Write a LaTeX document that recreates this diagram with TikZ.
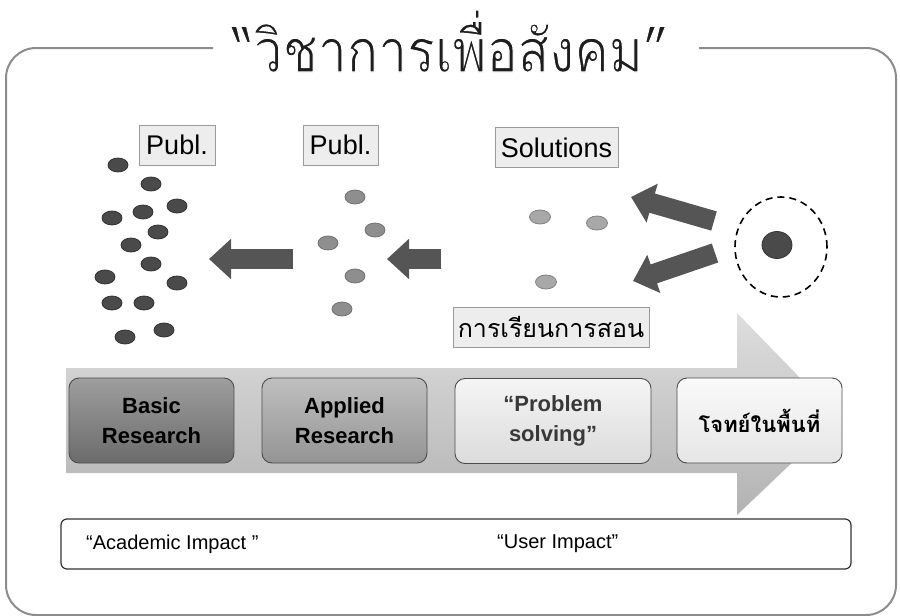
\documentclass[tikz,border=0pt]{standalone}
\usepackage{fontspec}
\setmainfont{Liberation Sans}
\newfontfamily\thaifont[Script=Thai]{Loma}
\usetikzlibrary{shapes.geometric,arrows.meta}
\definecolor{framegray}{HTML}{8C8C8C}
\definecolor{titleink}{HTML}{1E1E1E}
\definecolor{arrowgray}{HTML}{555555}
\definecolor{darkdot}{HTML}{4A4A4A}
\definecolor{middot}{HTML}{8E8E8E}
\definecolor{lightdot}{HTML}{A8A8A8}
\definecolor{labelfill}{HTML}{EDEDED}
\definecolor{labeledge}{HTML}{9A9A9A}
\tikzset{
  frameline/.style={draw=framegray, line width=2pt, rounded corners=30pt},
  dotdark/.style={ellipse, minimum width=20pt, minimum height=14pt, inner sep=0pt, fill=darkdot, draw=black!80, line width=0.8pt},
  dotmid/.style={ellipse, minimum width=20pt, minimum height=14pt, inner sep=0pt, fill=middot, draw=black!55, line width=0.8pt},
  dotlight/.style={ellipse, minimum width=21pt, minimum height=14pt, inner sep=0pt, fill=lightdot, draw=black!50, line width=0.8pt},
  fatarrow/.style={draw=arrowgray, line width=20pt, -{Triangle[length=22pt,width=39pt]}},
  toplabel/.style={draw=labeledge, fill=labelfill, line width=0.8pt, inner sep=0pt, font=\fontsize{27}{28}\selectfont},
  stagebox/.style={draw=black!70, line width=0.9pt, rounded corners=10pt, minimum width=165pt, minimum height=85pt, inner sep=0pt, align=center, font=\bfseries\fontsize{22}{30}\selectfont},
  impacttext/.style={anchor=west, inner sep=0pt, font=\fontsize{20}{22}\selectfont}
}
\begin{document}
\begin{tikzpicture}[x=1pt,y=-1pt]
\useasboundingbox (0,0) rectangle (900,616);
% outer frame with gap for title
\draw[frameline] (213,48) -- (6,48) -- (6,615) -- (896,615) -- (896,48) -- (699,48);
% title (thinned strokes: fill, then white outline)
\node[anchor=base west, inner sep=0pt, text=titleink] (title) at (232,72)
  {\resizebox{436pt}{62pt}{\special{pdf:literal direct 2 Tr 1 1 1 RG 0.2 w}\thaifont “วิชาการเพื่อสังคม”\special{pdf:literal direct 0 Tr}}};
% big process arrow
\path[top color=black!13, bottom color=black!30]
  (66,368) -- (737,368) -- (737,313) -- (839,418) -- (737,515) -- (737,473) -- (66,473) -- cycle;
% stage boxes
\node[stagebox, top color=black!38, bottom color=black!58] (basic) at (151.5,420.5) {Basic\\Research};
\node[stagebox, top color=black!25, bottom color=black!42] (applied) at (344.5,420.5) {Applied\\Research};
\node[stagebox, minimum width=196pt, top color=black!4, bottom color=black!14, text=black!78] (problem) at (553,421) {“Problem\\solving”};
\node[stagebox, top color=black!2, bottom color=black!10] (field) at (759.5,420.5) {\thaifont\bfseries\fontsize{22}{26}\selectfont โจทย์ในพื้นที่};
% impact box
\draw[draw=black!80, line width=1.2pt, fill=white, rounded corners=6pt] (61,519) rectangle (851,569);
\node[impacttext] (acad) at (86,544) {“Academic Impact ”};
\node[impacttext] (user) at (497,544) {“User Impact”};
% top labels
\node[toplabel, minimum width=76pt, minimum height=40pt] (publ1) at (177,145) {Publ.};
\node[toplabel, minimum width=75pt, minimum height=40pt] (publ2) at (340.5,145) {Publ.};
\node[toplabel, minimum width=123pt, minimum height=40pt] (sol) at (556.5,147.5) {Solutions};
\node[toplabel, minimum width=196pt, minimum height=40pt, font=\thaifont\fontsize{25}{28}\selectfont] (teach) at (551,327) {การเรียนการสอน};
% dark dots (basic research)
\foreach \n/\p in {1/{(118,165)},2/{(151,184)},3/{(177,206)},4/{(143,212)},5/{(112,218)},6/{(158,232)},7/{(131,245)},8/{(151,264)},9/{(105,277)},10/{(177,283)},11/{(112,303)},12/{(144,303)},13/{(125,337)},14/{(164,330)}}
  \node[dotdark] (dd\n) at \p {};
% medium dots (applied research)
\foreach \n/\p in {1/{(355,197)},2/{(375,230)},3/{(328,243)},4/{(355,276)},5/{(342,309)}}
  \node[dotmid] (md\n) at \p {};
% light dots (solutions)
\node[dotlight] (ld1) at (540,217) {};
\node[dotlight] (ld2) at (597,223) {};
\node[dotlight] (ld3) at (546,282) {};
% field problem
\node[ellipse, draw=black, line width=1.6pt, dash pattern=on 7pt off 5pt, minimum width=92pt, minimum height=100pt, inner sep=0pt] (ring) at (781,247) {};
\node[ellipse, minimum width=30pt, minimum height=27pt, inner sep=0pt, fill=darkdot, draw=black!80, line width=0.8pt] (core) at (777,245) {};
% arrows
\coordinate (a1s) at (293,259); \coordinate (a1e) at (209,259);
\coordinate (a2s) at (441,259); \coordinate (a2e) at (387,259);
\coordinate (a3s) at (714,221); \coordinate (a3e) at (631,197);
\coordinate (a4s) at (715,253); \coordinate (a4e) at (633,281);
\draw[fatarrow] (a1s) -- (a1e);
\draw[fatarrow] (a2s) -- (a2e);
\draw[fatarrow] (a3s) -- (a3e);
\draw[fatarrow] (a4s) -- (a4e);
\end{tikzpicture}
\end{document}
